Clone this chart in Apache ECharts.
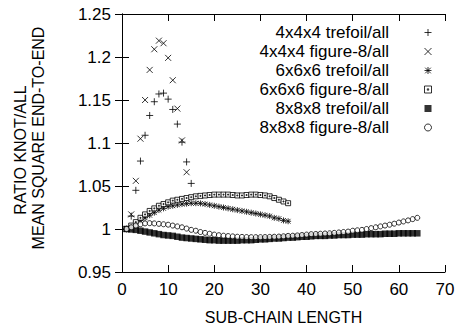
<!DOCTYPE html>
<html>
<head>
<meta charset="utf-8">
<script src="https://cdn.jsdelivr.net/npm/echarts@6/dist/echarts.min.js"></script>
<style>
  html, body { margin: 0; padding: 0; background: #fff; }
  #chart { width: 458px; height: 328px; }
</style>
</head>
<body>
<div id="chart"></div>
<script>
// values, x = sub-chain length starting at 1
const trefoil444 = [1.0, 1.015, 1.045, 1.079, 1.109, 1.132, 1.148, 1.157, 1.158, 1.151, 1.139, 1.122, 1.101, 1.078, 1.053];
const figure8444 = [1.0, 1.017, 1.056, 1.105, 1.15, 1.185, 1.209, 1.219, 1.216, 1.199, 1.173, 1.14, 1.103, 1.066];
const trefoil666 = [
  1.0, 1.003, 1.006, 1.01, 1.013, 1.016, 1.019, 1.022, 1.024, 1.026,
  1.027, 1.028, 1.029, 1.0295, 1.03, 1.03, 1.0298, 1.029, 1.028, 1.027,
  1.026, 1.025, 1.024, 1.023, 1.022, 1.021, 1.02, 1.019, 1.018, 1.017,
  1.016, 1.015, 1.013, 1.012, 1.01, 1.009
];
const figure8666 = [
  1.0, 1.004, 1.008, 1.013, 1.017, 1.021, 1.024, 1.027, 1.029, 1.031,
  1.033, 1.034, 1.035, 1.036, 1.037, 1.038, 1.0385, 1.039, 1.0395, 1.04,
  1.04, 1.04, 1.04, 1.0395, 1.039, 1.039, 1.0395, 1.04, 1.04, 1.0395,
  1.039, 1.038, 1.036, 1.034, 1.032, 1.03
];
const trefoil888 = [
  1.0, 0.9995, 0.999, 0.998, 0.997, 0.996, 0.995, 0.994, 0.993, 0.9925,
  0.992, 0.991, 0.99, 0.9895, 0.989, 0.9885, 0.988, 0.9875, 0.987, 0.987,
  0.9865, 0.9865, 0.9865, 0.9865, 0.9865, 0.987, 0.987, 0.987, 0.9875, 0.988,
  0.988, 0.9885, 0.989, 0.989, 0.9895, 0.99, 0.99, 0.9905, 0.991, 0.991,
  0.9915, 0.992, 0.992, 0.992, 0.9925, 0.9925, 0.993, 0.993, 0.993, 0.9935,
  0.9935, 0.9935, 0.994, 0.994, 0.994, 0.994, 0.9945, 0.9945, 0.9945, 0.995,
  0.995, 0.995, 0.995, 0.995
];
const figure8888 = [
  1.0, 1.002, 1.004, 1.0055, 1.0065, 1.0068, 1.0065, 1.006, 1.0055, 1.005,
  1.004, 1.003, 1.002, 1.0005, 0.999, 0.998, 0.9965, 0.9955, 0.9945, 0.9935,
  0.9928, 0.9922, 0.9918, 0.9914, 0.991, 0.9908, 0.9906, 0.9905, 0.9905, 0.9905,
  0.9906, 0.9908, 0.991, 0.9912, 0.9915, 0.992, 0.9922, 0.9925, 0.993, 0.9935,
  0.994, 0.9942, 0.9945, 0.9948, 0.995, 0.9955, 0.996, 0.9965, 0.997, 0.998,
  0.9985, 0.999, 1.0, 1.001, 1.002, 1.003, 1.004, 1.005, 1.0062, 1.0075,
  1.0088, 1.01, 1.0115, 1.013
];
const seriesNames = [
  "4x4x4 trefoil/all", "4x4x4 figure-8/all", "6x6x6 trefoil/all",
  "6x6x6 figure-8/all", "8x8x8 trefoil/all", "8x8x8 figure-8/all"
];
const xTicks = [0, 10, 20, 30, 40, 50, 60, 70];
const yTicks = [0.95, 1.0, 1.05, 1.1, 1.15, 1.2, 1.25];

const font = "Liberation Sans, Arial, Helvetica, sans-serif";
const plusPath = "path://M0,5L10,5M5,0L5,10";
const crossPath = "path://M0,0L10,10M0,10L10,0";
const starPath = "path://M0,5L10,5M5,0L5,10M1,1L9,9M1,9L9,1";
const boxPath = "path://M0,0L10,0L10,10L0,10Z";
// gnuplot style box with a dot in it
const dotBoxPath = "path://M0,0L10,0L10,10L0,10ZM4,4L6,4L6,6L4,6Z";

const toPoints = (vals) => vals.map((v, i) => [i + 1, v]);

const strokeStyle = { color: "rgba(0,0,0,0)", borderColor: "#000", borderWidth: 1 };
const openStyle = { color: "#fff", borderColor: "#000", borderWidth: 1 };

const frameAxis = (extra) => Object.assign({
  type: "value",
  axisLine: { show: true, lineStyle: { color: "#000", width: 1 } },
  axisTick: { show: true, inside: true, length: 7, lineStyle: { color: "#000", width: 1 } },
  splitLine: { show: false },
}, extra);

const myChart = echarts.init(document.getElementById("chart"), null, { renderer: "svg" });
myChart.setOption({
  animation: false,
  backgroundColor: "#fff",
  grid: { left: 122, right: 13, top: 14, bottom: 56, containLabel: false, outerBoundsMode: "none" },
  xAxis: [
    frameAxis({
      position: "bottom", min: xTicks[0], max: xTicks[xTicks.length - 1], interval: 10,
      axisLabel: { color: "#000", fontSize: 17, fontFamily: font, margin: 9 },
      name: "SUB-CHAIN LENGTH", nameLocation: "middle", nameGap: 37,
      nameTextStyle: { color: "#000", fontSize: 16, fontFamily: font },
    }),
    frameAxis({
      position: "top", min: xTicks[0], max: xTicks[xTicks.length - 1], interval: 10,
      axisLabel: { show: false },
    }),
  ],
  yAxis: [
    frameAxis({
      position: "left", min: yTicks[0], max: yTicks[yTicks.length - 1], interval: 0.05,
      axisLabel: { color: "#000", fontSize: 17, fontFamily: font, margin: 11 },
    }),
    frameAxis({
      position: "right", min: yTicks[0], max: yTicks[yTicks.length - 1], interval: 0.05,
      axisLabel: { show: false },
    }),
  ],
  legend: {
    orient: "vertical", align: "right", right: 26, top: 24, padding: 0,
    itemWidth: 68, itemHeight: 7, itemGap: 2, symbolKeepAspect: true,
    textStyle: { color: "#000", fontSize: 17, fontFamily: font },
    itemStyle: { borderWidth: 1 },
    data: seriesNames,
  },
  graphic: [
    { type: "text", x: 20, y: 150, rotation: Math.PI / 2,
      style: { text: "RATIO KNOT/ALL", fill: "#000", fontSize: 16, fontFamily: font, align: "center", verticalAlign: "middle" } },
    { type: "text", x: 38, y: 138, rotation: Math.PI / 2,
      style: { text: "MEAN SQUARE END-TO-END", fill: "#000", fontSize: 16, fontFamily: font, align: "center", verticalAlign: "middle" } },
  ],
  series: [
    { name: seriesNames[0], type: "scatter", data: toPoints(trefoil444), symbol: plusPath, symbolSize: 7, itemStyle: strokeStyle },
    { name: seriesNames[1], type: "scatter", data: toPoints(figure8444), symbol: crossPath, symbolSize: 6, itemStyle: strokeStyle },
    { name: seriesNames[2], type: "scatter", data: toPoints(trefoil666), symbol: starPath, symbolSize: 6, itemStyle: strokeStyle },
    { name: seriesNames[3], type: "scatter", data: toPoints(figure8666), symbol: dotBoxPath, symbolSize: 5, itemStyle: openStyle },
    { name: seriesNames[4], type: "scatter", data: toPoints(trefoil888), symbol: boxPath, symbolSize: 6.5, itemStyle: { color: "#000", borderWidth: 0 } },
    { name: seriesNames[5], type: "scatter", data: toPoints(figure8888), symbol: "circle", symbolSize: 5, itemStyle: openStyle },
  ],
});
</script>
</body>
</html>
